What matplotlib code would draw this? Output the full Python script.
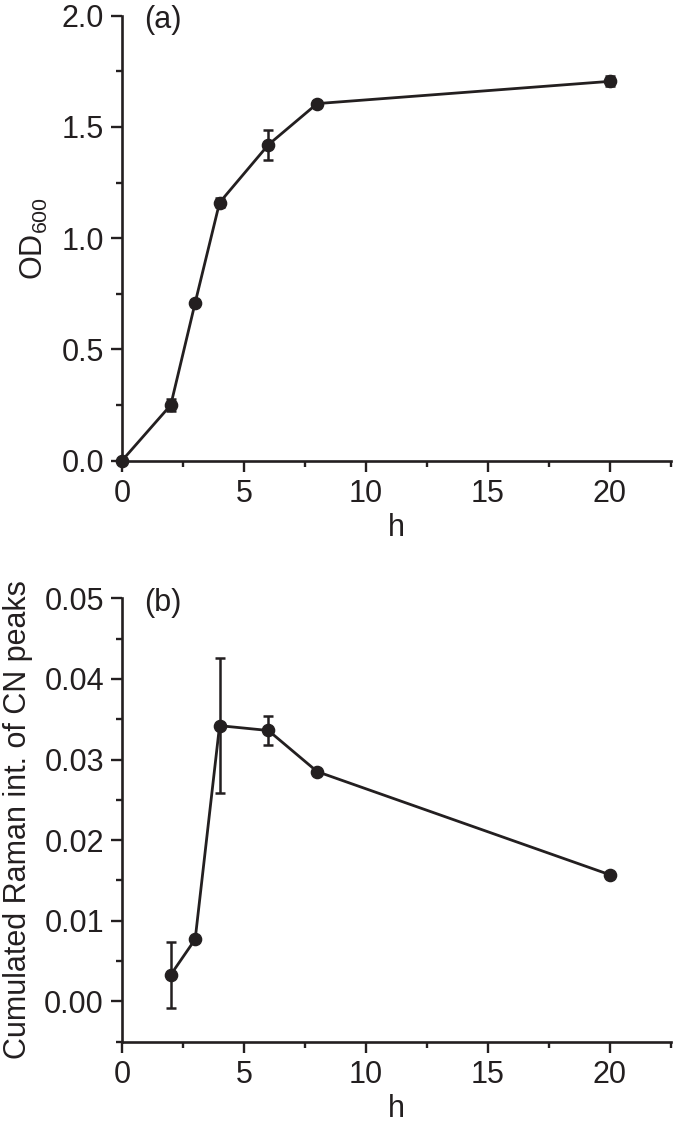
import matplotlib
matplotlib.use('Agg')
import matplotlib.pyplot as plt
from matplotlib.ticker import MultipleLocator, FormatStrFormatter

plt.rcParams['font.family'] = ['Liberation Sans', 'DejaVu Sans']
plt.rcParams['mathtext.fontset'] = 'custom'
plt.rcParams['mathtext.rm'] = 'Liberation Sans'

# panel (a): growth curve
hours_a = [0, 2, 3, 4, 6, 8, 20]
od600 = [0.0, 0.25, 0.71, 1.16, 1.42, 1.605, 1.705]
od600_err = [0.0, 0.025, 0.01, 0.02, 0.068, 0.01, 0.022]

# panel (b): Raman CN peaks
hours_b = [2, 3, 4, 6, 8, 20]
raman = [0.0033, 0.0077, 0.0342, 0.0336, 0.0285, 0.0157]
raman_err = [0.0041, 0.0, 0.0084, 0.0018, 0.0, 0.0]

fig = plt.figure(figsize=(6.75, 11.31), dpi=100)
ax1 = fig.add_axes([0.1807, 0.5927, 0.8133, 0.3934])
ax2 = fig.add_axes([0.1807, 0.0790, 0.8133, 0.3920])

fs = 22
ink = '#231f20'

def style(ax):
    ax.spines['top'].set_visible(False)
    ax.spines['right'].set_visible(False)
    for s in ['left', 'bottom']:
        ax.spines[s].set_linewidth(1.9)
        ax.spines[s].set_color(ink)
    ax.tick_params(which='major', direction='out', length=8, width=1.7,
                   labelsize=fs, pad=5, colors=ink)
    ax.tick_params(which='minor', direction='out', length=4.5, width=1.7,
                   colors=ink)
    ax.set_xlim(0, 22.5)
    ax.xaxis.set_major_locator(MultipleLocator(5))
    ax.xaxis.set_minor_locator(MultipleLocator(2.5))
    ax.set_xlabel('h', fontsize=fs, labelpad=3, color=ink)

style(ax1)
ax1.errorbar(hours_a, od600, yerr=od600_err, color=ink, lw=2.0,
             marker='o', markersize=8.8, capsize=3.6, elinewidth=1.8,
             capthick=1.8, clip_on=False)
ax1.set_ylim(0, 2.0)
ax1.yaxis.set_major_locator(MultipleLocator(0.5))
ax1.yaxis.set_minor_locator(MultipleLocator(0.25))
ax1.yaxis.set_major_formatter(FormatStrFormatter('%.1f'))
ax1.set_ylabel('OD$_{600}$', fontsize=fs, labelpad=8, color=ink)
ax1.text(0.04, 0.99, '(a)', transform=ax1.transAxes, fontsize=fs,
         va='center', ha='left', color=ink)

style(ax2)
ax2.errorbar(hours_b, raman, yerr=raman_err, color=ink, lw=2.0,
             marker='o', markersize=8.8, capsize=3.6, elinewidth=1.8,
             capthick=1.8, clip_on=False)
ax2.set_ylim(-0.005, 0.05)
ax2.yaxis.set_major_locator(MultipleLocator(0.01))
ax2.yaxis.set_minor_locator(MultipleLocator(0.005))
ax2.yaxis.set_major_formatter(FormatStrFormatter('%.2f'))
ax2.set_ylabel('Cumulated Raman int. of CN peaks', fontsize=fs,
               labelpad=8, color=ink)
ax2.text(0.04, 0.99, '(b)', transform=ax2.transAxes, fontsize=fs,
         va='center', ha='left', color=ink)

fig.savefig('out.png', dpi=100)
